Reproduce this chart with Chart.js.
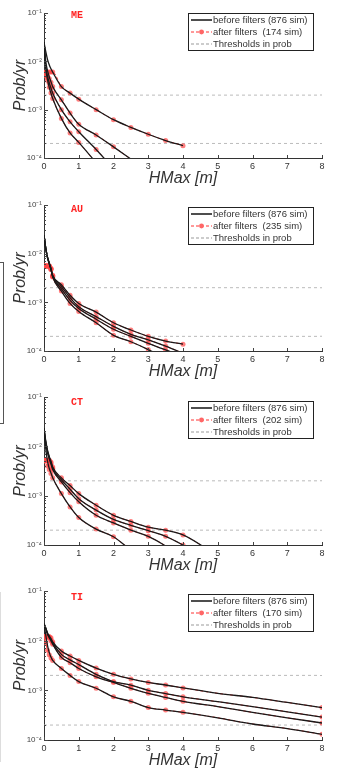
<!DOCTYPE html>
<html>
<head>
<meta charset="utf-8">
<script src="https://cdn.jsdelivr.net/npm/chart.js@4.4.1/dist/chart.umd.min.js"></script>
<style>
  html, body { margin:0; padding:0; background:#fff; }
  body { width:339px; height:770px; position:relative; overflow:hidden; font-family:'Liberation Sans', Arial, sans-serif; }
  .panel { position:absolute; left:0; width:339px; }
  .panel canvas { position:absolute; left:0; top:0; }
  .tag { position:absolute; left:71px; font:bold 10px 'Liberation Mono', monospace; color:#f22; line-height:10px; }
  .legend { position:absolute; left:188px; width:124px; border:1.5px solid #222; background:#fff; font-size:9.5px; color:#333; padding:0; }
  .legend div { height:12px; line-height:12px; white-space:pre; display:flex; align-items:center; }
  .legend svg { width:23px; height:12px; flex:none; margin-left:1px; }
  .bracket { position:absolute; left:0; top:262px; width:3px; height:160px; border:1px solid #555; border-left:none; }
  .faint { position:absolute; left:0; top:592px; height:170px; border-left:1px solid #ddd; }
</style>
</head>
<body>
<div class="bracket"></div>
<div class="faint"></div>
<div id="panels"></div>

<script>
// ============================================================
// Prob/yr vs HMax — before / after filters, 4 sites
// ============================================================

const X          = [0, 0.05, 0.1, 0.15, 0.2, 0.25, 0.5, 0.75, 1, 1.5, 2, 2.5, 3, 3.5, 4, 5, 6, 7, 8];
const X_TICKS    = [0, 1, 2, 3, 4, 5, 6, 7, 8];
const Y_DECADES  = [1e-4, 1e-3, 1e-2, 1e-1];
const THRESHOLDS = [2e-3, 2e-4];
const SITES      = ['ME', 'AU', 'CT', 'TI'];
const SIMS_BEFORE = 876;
const SIMS_AFTER  = [174, 235, 202, 170];

// ME
const ME_BEFORE = [
  [2.5e-2, 1.6e-2, 1.1e-2, 8.5e-3, 7.0e-3, 6.0e-3, 3.0e-3, 2.2e-3, 1.65e-3, 1.0e-3, 6.2e-4, 4.3e-4, 3.1e-4, 2.3e-4, 1.8e-4, null, null, null, null],
  [2.5e-2, 1.0e-2, 6.5e-3, 4.8e-3, 3.8e-3, 3.0e-3, 1.6e-3, 8.5e-4, 5.0e-4, 3.0e-4, 1.7e-4, 9.5e-5, null, null, null, null, null, null, null],
  [2.5e-2, 8.0e-3, 5.0e-3, 3.6e-3, 2.8e-3, 2.2e-3, 1.0e-3, 5.6e-4, 3.5e-4, 1.5e-4, 6.0e-5, null, null, null, null, null, null, null, null],
  [2.5e-2, 7.0e-3, 4.2e-3, 2.9e-3, 2.2e-3, 1.7e-3, 6.6e-4, 3.3e-4, 2.1e-4, 8.0e-5, null, null, null, null, null, null, null, null, null],
];
const ME_AFTER = [
  [6.0e-3, 6.0e-3, 6.0e-3, 6.0e-3, 6.0e-3, 6.0e-3, 3.0e-3, 2.2e-3, 1.65e-3, 1.0e-3, 6.2e-4, 4.3e-4, 3.1e-4, 2.3e-4, 1.8e-4, null, null, null, null],
  [6.0e-3, 5.5e-3, 5.0e-3, 4.4e-3, 3.7e-3, 3.0e-3, 1.6e-3, 8.5e-4, 5.0e-4, 3.0e-4, 1.7e-4, 9.5e-5, null, null, null, null, null, null, null],
  [6.0e-3, 5.2e-3, 4.5e-3, 3.5e-3, 2.8e-3, 2.2e-3, 1.0e-3, 5.6e-4, 3.5e-4, 1.5e-4, 6.0e-5, null, null, null, null, null, null, null, null],
  [6.0e-3, 5.0e-3, 4.0e-3, 2.9e-3, 2.2e-3, 1.7e-3, 6.6e-4, 3.3e-4, 2.1e-4, 8.0e-5, null, null, null, null, null, null, null, null, null],
];

// AU
const AU_BEFORE = [
  [2.4e-2, 1.3e-2, 8.5e-3, 6.5e-3, 5.0e-3, 3.6e-3, 2.3e-3, 1.4e-3, 9.5e-4, 6.3e-4, 3.8e-4, 2.7e-4, 2.0e-4, 1.6e-4, 1.38e-4, null, null, null, null],
  [2.4e-2, 1.3e-2, 8.5e-3, 6.4e-3, 4.9e-3, 3.5e-3, 2.1e-3, 1.25e-3, 8.1e-4, 5.1e-4, 3.2e-4, 2.2e-4, 1.7e-4, 1.26e-4, 9.0e-5, null, null, null, null],
  [2.4e-2, 1.3e-2, 8.4e-3, 6.3e-3, 4.8e-3, 3.4e-3, 1.9e-3, 1.1e-3, 7.5e-4, 4.5e-4, 2.8e-4, 2.0e-4, 1.44e-4, 1.05e-4, 8.0e-5, null, null, null, null],
  [2.4e-2, 1.3e-2, 8.3e-3, 6.2e-3, 4.7e-3, 3.3e-3, 1.7e-3, 9.5e-4, 6.5e-4, 3.8e-4, 2.1e-4, 1.55e-4, 1.07e-4, 7.0e-5, null, null, null, null, null],
];
const AU_AFTER = [
  [5.6e-3, 5.6e-3, 5.6e-3, 5.6e-3, 5.0e-3, 3.6e-3, 2.3e-3, 1.4e-3, 9.5e-4, 6.3e-4, 3.8e-4, 2.7e-4, 2.0e-4, 1.6e-4, 1.38e-4, null, null, null, null],
  [5.6e-3, 5.6e-3, 5.6e-3, 5.6e-3, 4.9e-3, 3.5e-3, 2.1e-3, 1.25e-3, 8.1e-4, 5.1e-4, 3.2e-4, 2.2e-4, 1.7e-4, 1.26e-4, 9.0e-5, null, null, null, null],
  [5.6e-3, 5.6e-3, 5.6e-3, 5.6e-3, 4.8e-3, 3.4e-3, 1.9e-3, 1.1e-3, 7.5e-4, 4.5e-4, 2.8e-4, 2.0e-4, 1.44e-4, 1.05e-4, 8.0e-5, null, null, null, null],
  [5.6e-3, 5.6e-3, 5.6e-3, 5.5e-3, 4.7e-3, 3.3e-3, 1.7e-3, 9.5e-4, 6.5e-4, 3.8e-4, 2.1e-4, 1.55e-4, 1.07e-4, 7.0e-5, null, null, null, null, null],
];

// CT
const CT_BEFORE = [
  [2.3e-2, 1.3e-2, 8.5e-3, 6.3e-3, 5.0e-3, 3.8e-3, 2.3e-3, 1.6e-3, 1.1e-3, 6.4e-4, 4.0e-4, 3.0e-4, 2.3e-4, 2.0e-4, 1.6e-4, 6.0e-5, null, null, null],
  [2.3e-2, 1.2e-2, 8.0e-3, 6.0e-3, 4.7e-3, 3.6e-3, 2.1e-3, 1.35e-3, 8.7e-4, 5.1e-4, 3.3e-4, 2.5e-4, 1.95e-4, 1.5e-4, 1.0e-4, 4.0e-5, null, null, null],
  [2.3e-2, 1.2e-2, 7.5e-3, 5.6e-3, 4.4e-3, 3.4e-3, 1.9e-3, 1.15e-3, 7.5e-4, 4.0e-4, 2.8e-4, 2.0e-4, 1.5e-4, 9.5e-5, 5.0e-5, null, null, null, null],
  [2.3e-2, 9.0e-3, 5.0e-3, 3.6e-3, 2.9e-3, 2.3e-3, 1.1e-3, 5.9e-4, 3.6e-4, 2.1e-4, 1.47e-4, 7.8e-5, null, null, null, null, null, null, null],
];
const CT_AFTER = [
  [5.2e-3, 5.2e-3, 5.2e-3, 5.2e-3, 4.8e-3, 3.8e-3, 2.3e-3, 1.6e-3, 1.1e-3, 6.4e-4, 4.0e-4, 3.0e-4, 2.3e-4, 2.0e-4, 1.6e-4, 6.0e-5, null, null, null],
  [5.2e-3, 5.2e-3, 5.2e-3, 5.2e-3, 4.6e-3, 3.6e-3, 2.1e-3, 1.35e-3, 8.7e-4, 5.1e-4, 3.3e-4, 2.5e-4, 1.95e-4, 1.5e-4, 1.0e-4, 4.0e-5, null, null, null],
  [5.2e-3, 5.2e-3, 5.2e-3, 5.0e-3, 4.3e-3, 3.4e-3, 1.9e-3, 1.15e-3, 7.5e-4, 4.0e-4, 2.8e-4, 2.0e-4, 1.5e-4, 9.5e-5, 5.0e-5, null, null, null, null],
  [5.2e-3, 5.0e-3, 4.0e-3, 3.4e-3, 2.8e-3, 2.3e-3, 1.1e-3, 5.9e-4, 3.6e-4, 2.1e-4, 1.47e-4, 7.8e-5, null, null, null, null, null, null, null],
];

// TI
const TI_BEFORE = [
  [2.2e-2, 1.8e-2, 1.45e-2, 1.25e-2, 1.1e-2, 9.5e-3, 6.2e-3, 4.9e-3, 4.0e-3, 2.8e-3, 2.1e-3, 1.7e-3, 1.44e-3, 1.28e-3, 1.12e-3, 8.7e-4, 7.2e-4, 5.7e-4, 4.5e-4],
  [2.2e-2, 1.8e-2, 1.4e-2, 1.2e-2, 1.05e-2, 9.0e-3, 5.3e-3, 4.1e-3, 3.3e-3, 2.1e-3, 1.5e-3, 1.27e-3, 1.0e-3, 8.6e-4, 7.4e-4, 5.9e-4, 4.7e-4, 3.7e-4, 2.9e-4],
  [2.2e-2, 1.75e-2, 1.35e-2, 1.15e-2, 1.0e-2, 8.5e-3, 4.6e-3, 3.6e-3, 2.75e-3, 1.87e-3, 1.44e-3, 1.1e-3, 8.7e-4, 7.2e-4, 6.0e-4, 4.7e-4, 3.6e-4, 2.8e-4, 2.2e-4],
  [2.2e-2, 1.3e-2, 8.0e-3, 5.8e-3, 4.7e-3, 4.0e-3, 2.75e-3, 2.0e-3, 1.5e-3, 1.1e-3, 7.4e-4, 6.0e-4, 4.5e-4, 4.0e-4, 3.6e-4, 2.8e-4, 2.1e-4, 1.7e-4, 1.3e-4],
];
const TI_AFTER = [
  [1.2e-2, 1.2e-2, 1.2e-2, 1.2e-2, 1.15e-2, 9.5e-3, 6.2e-3, 4.9e-3, 4.0e-3, 2.8e-3, 2.1e-3, 1.7e-3, 1.44e-3, 1.28e-3, 1.12e-3, 8.7e-4, 7.2e-4, 5.7e-4, 4.5e-4],
  [1.2e-2, 1.2e-2, 1.2e-2, 1.2e-2, 1.05e-2, 9.0e-3, 5.3e-3, 4.1e-3, 3.3e-3, 2.1e-3, 1.5e-3, 1.27e-3, 1.0e-3, 8.6e-4, 7.4e-4, 5.9e-4, 4.7e-4, 3.7e-4, 2.9e-4],
  [1.2e-2, 1.2e-2, 1.2e-2, 1.15e-2, 1.0e-2, 8.5e-3, 4.6e-3, 3.6e-3, 2.75e-3, 1.87e-3, 1.44e-3, 1.1e-3, 8.7e-4, 7.2e-4, 6.0e-4, 4.7e-4, 3.6e-4, 2.8e-4, 2.2e-4],
  [1.0e-2, 9.0e-3, 6.4e-3, 5.2e-3, 4.5e-3, 4.0e-3, 2.75e-3, 2.0e-3, 1.5e-3, 1.1e-3, 7.4e-4, 6.0e-4, 4.5e-4, 4.0e-4, 3.6e-4, 2.8e-4, 2.1e-4, 1.7e-4, 1.3e-4],
];

// ---------- layout (page px) ----------
const FONT = "'Liberation Sans', Arial, sans-serif";
const PANELS = [
  { before: ME_BEFORE, after: ME_AFTER, top: 0,   plotH: 145, tagTop: 11, legTop: 13 },
  { before: AU_BEFORE, after: AU_AFTER, top: 192, plotH: 146, tagTop: 13, legTop: 15 },
  { before: CT_BEFORE, after: CT_AFTER, top: 384, plotH: 148, tagTop: 14, legTop: 17 },
  { before: TI_BEFORE, after: TI_AFTER, top: 578, plotH: 149, tagTop: 15, legTop: 16 },
];
const PAD_TOP = 13, X_AXIS_H = 32, Y_AXIS_W = 44, PAD_RIGHT = 17;
const NO_MARK_X = [5, 6, 7];

const SUP = { '-': '⁻', '0': '⁰', '1': '¹', '2': '²', '3': '³', '4': '⁴', '5': '⁵', '6': '⁶', '7': '⁷', '8': '⁸', '9': '⁹' };
const pow10Label = v => '10' + String(Math.round(Math.log10(v))).split('').map(c => SUP[c]).join('');

const yTickValues = () => {
  const out = [];
  Y_DECADES.slice(0, -1).forEach(d => { for (let k = 1; k <= 9; k++) out.push(k * d); });
  out.push(Y_DECADES[Y_DECADES.length - 1]);
  return out;
};

// inward tick marks, MATLAB style
const inTicks = {
  id: 'inTicks',
  afterDraw(chart) {
    const { ctx, chartArea: a, scales: { x, y } } = chart;
    ctx.save();
    ctx.strokeStyle = '#444';
    ctx.lineWidth = 1;
    ctx.beginPath();
    y.ticks.forEach(t => {
      const py = Math.round(y.getPixelForValue(t.value)) + 0.5;
      const len = Y_DECADES.includes(t.value) ? 4 : 2;
      ctx.moveTo(a.left, py); ctx.lineTo(a.left + len, py);
    });
    x.ticks.forEach(t => {
      const px = Math.round(x.getPixelForValue(t.value)) + 0.5;
      ctx.moveTo(px, a.bottom); ctx.lineTo(px, a.bottom - 3);
    });
    ctx.stroke();
    ctx.restore();
  }
};

const toPoints = vals => X.map((x, i) => ({ x, y: vals[i] }));

function buildPanel(p, i) {
  const host = document.createElement('div');
  host.className = 'panel';
  host.style.top = p.top + 'px';
  const h = PAD_TOP + p.plotH + X_AXIS_H;
  host.style.height = h + 'px';
  host.innerHTML = `
    <canvas width="339" height="${h}"></canvas>
    <div class="tag" style="top:${p.tagTop}px">${SITES[i]}</div>
    <div class="legend" style="top:${p.legTop}px">
      <div><svg><line x1="1" y1="6" x2="22" y2="6" stroke="#222" stroke-width="1.6"/></svg>before filters (${SIMS_BEFORE} sim)</div>
      <div><svg><line x1="1" y1="6" x2="22" y2="6" stroke="#f33" stroke-width="1" stroke-dasharray="3,2"/><circle cx="11.5" cy="6" r="2.4" fill="#f66"/></svg>after filters  (${SIMS_AFTER[i]} sim)</div>
      <div><svg><line x1="1" y1="6" x2="22" y2="6" stroke="#999" stroke-width="1" stroke-dasharray="3,2"/></svg>Thresholds in prob</div>
    </div>`;
  document.getElementById('panels').appendChild(host);

  const datasets = [];
  p.before.forEach(vals => datasets.push({
    label: 'before filters', data: toPoints(vals), order: 1,
    borderColor: '#1a1a1a', borderWidth: 1.3, pointRadius: 0,
    cubicInterpolationMode: 'monotone',
  }));
  p.after.forEach(vals => datasets.push({
    label: 'after filters', data: toPoints(vals), order: 2,
    borderColor: '#ff3030', borderWidth: 1, borderDash: [3, 2],
    pointRadius: ctx => {
      const r = ctx.raw;
      return r && r.y != null && r.y >= Y_DECADES[0] && !NO_MARK_X.includes(r.x) ? 2.5 : 0;
    },
    pointBackgroundColor: 'rgba(255,70,70,0.7)', pointBorderWidth: 0,
    cubicInterpolationMode: 'monotone',
  }));
  THRESHOLDS.forEach(t => datasets.push({
    label: 'Thresholds in prob', order: 3,
    data: [{ x: X_TICKS[0], y: t }, { x: X_TICKS[X_TICKS.length - 1], y: t }],
    borderColor: '#bbb', borderWidth: 1, borderDash: [3, 3], pointRadius: 0,
  }));

  new Chart(host.querySelector('canvas'), {
    type: 'line',
    data: { datasets },
    plugins: [inTicks],
    options: {
      responsive: false, animation: false, devicePixelRatio: 1,
      layout: { padding: { top: PAD_TOP, right: PAD_RIGHT, left: 0, bottom: 0 } },
      plugins: { legend: { display: false }, tooltip: { enabled: false } },
      scales: {
        x: {
          type: 'linear', min: X_TICKS[0], max: X_TICKS[X_TICKS.length - 1],
          afterBuildTicks: s => { s.ticks = X_TICKS.map(v => ({ value: v })); },
          afterFit: s => { s.height = X_AXIS_H; },
          grid: { display: false, drawTicks: false },
          border: { color: '#333', width: 1 },
          ticks: { padding: 3, color: '#333', font: { family: FONT, size: 9 }, maxRotation: 0, callback: v => String(v) },
          title: { display: true, text: 'HMax [m]', color: '#333', padding: { top: 0, bottom: 2 },
                   font: { family: FONT, size: 16, style: 'italic' } },
        },
        y: {
          type: 'logarithmic', min: Y_DECADES[0], max: Y_DECADES[Y_DECADES.length - 1],
          afterBuildTicks: s => { s.ticks = yTickValues().map(v => ({ value: v })); },
          afterFit: s => { s.width = Y_AXIS_W; },
          grid: { display: false, drawTicks: false },
          border: { color: '#333', width: 1 },
          ticks: { padding: 2, color: '#444', autoSkip: false, font: { family: FONT, size: 8 },
                   callback: v => Y_DECADES.includes(v) ? pow10Label(v) : '' },
          title: { display: true, text: 'Prob/yr', color: '#333', padding: { top: 11, bottom: 0 },
                   font: { family: FONT, size: 16, style: 'italic' } },
        },
      },
    },
  });
}

PANELS.forEach(buildPanel);
</script>
</body>
</html>
